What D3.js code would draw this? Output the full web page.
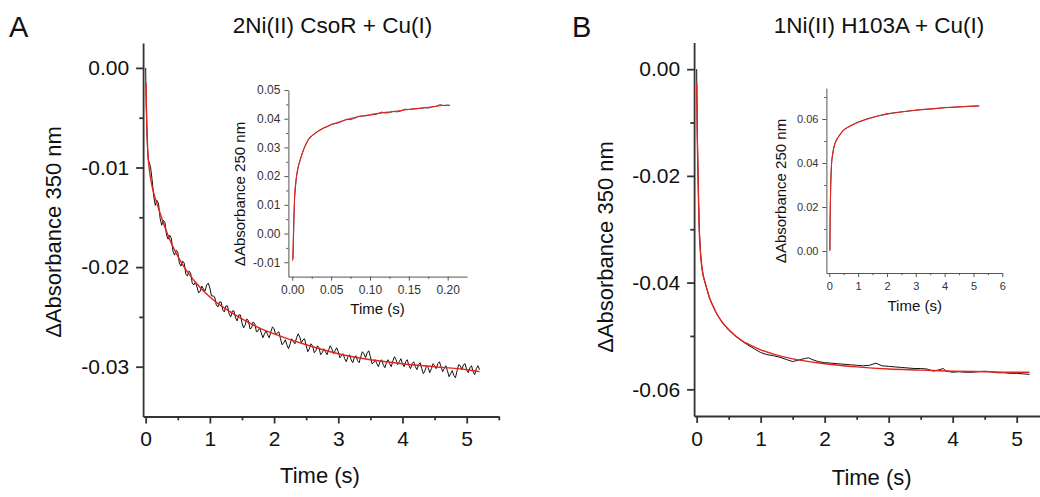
<!DOCTYPE html>
<html><head><meta charset="utf-8">
<script src="https://cdn.jsdelivr.net/npm/d3@7"></script>
<style>body{margin:0;background:#fff}svg{display:block;font-family:"Liberation Sans",Arial,sans-serif}</style>
</head><body><svg id="c" width="1040" height="497"></svg>
<script>
// ---------- Panel A main (ΔA 350 nm) ----------
const aMainTime = [0,0.005,0.01,0.02,0.03,0.04,
0.05,0.075,0.10,0.125,0.15,0.175,0.20,0.225,0.25,0.275,0.30,0.325,0.35,0.375,0.40,0.425,0.45,0.475,0.50,0.525,0.55,0.575,0.60,0.625,0.65,0.675,0.70,0.725,0.75,0.775,0.80,0.825,0.85,0.875,0.90,0.925,0.95,0.975,
1.00,1.025,1.05,1.075,1.10,1.125,1.15,1.175,1.20,1.225,1.25,1.275,1.30,1.325,1.35,1.375,1.40,1.425,1.45,1.475,1.50,1.525,1.55,1.575,1.60,1.625,1.65,1.675,1.70,1.725,1.75,1.775,1.80,1.825,1.85,1.875,1.90,1.925,1.95,1.975,
2.00,2.025,2.05,2.075,2.10,2.125,2.15,2.175,2.20,2.225,2.25,2.275,2.30,2.325,2.35,2.375,2.40,2.425,2.45,2.475,2.50,2.525,2.55,2.575,2.60,2.625,2.65,2.675,2.70,2.725,2.75,2.775,2.80,2.825,2.85,2.875,2.90,2.925,2.95,2.975,
3.00,3.025,3.05,3.075,3.10,3.125,3.15,3.175,3.20,3.225,3.25,3.275,3.30,3.325,3.35,3.375,3.40,3.425,3.45,3.475,3.50,3.525,3.55,3.575,3.60,3.625,3.65,3.675,3.70,3.725,3.75,3.775,3.80,3.825,3.85,3.875,3.90,3.925,3.95,3.975,
4.00,4.025,4.05,4.075,4.10,4.125,4.15,4.175,4.20,4.225,4.25,4.275,4.30,4.325,4.35,4.375,4.40,4.425,4.45,4.475,4.50,4.525,4.55,4.575,4.60,4.625,4.65,4.675,4.70,4.725,4.75,4.775,4.80,4.825,4.85,4.875,4.90,4.925,4.95,4.975,
5.00,5.025,5.05,5.075,5.10,5.125,5.15,5.175,5.20];
const aMainData = [0.0000,-0.0022,-0.0040,-0.0065,-0.0082,-0.0092,
-0.0094,-0.0099,-0.0112,-0.0129,-0.0138,-0.0133,-0.0136,-0.0151,-0.0158,-0.0153,-0.0155,-0.0168,-0.0172,-0.0168,-0.0171,-0.0184,-0.0188,-0.0183,-0.0185,-0.0196,-0.0199,-0.0194,-0.0196,-0.0207,-0.0209,-0.0204,-0.0206,-0.0216,-0.0218,-0.0215,-0.0220,-0.0226,-0.0224,-0.0219,-0.0222,-0.0224,-0.0218,-0.0216,
-0.0221,-0.0229,-0.0229,-0.0230,-0.0238,-0.0240,-0.0235,-0.0235,-0.0243,-0.0245,-0.0239,-0.0239,-0.0247,-0.0250,-0.0244,-0.0244,-0.0251,-0.0254,-0.0248,-0.0248,-0.0256,-0.0261,-0.0258,-0.0252,-0.0254,-0.0262,-0.0261,-0.0255,-0.0257,-0.0265,-0.0264,-0.0261,-0.0266,-0.0271,-0.0267,-0.0264,-0.0268,-0.0271,-0.0265,-0.0260,
-0.0262,-0.0268,-0.0266,-0.0265,-0.0272,-0.0278,-0.0276,-0.0273,-0.0278,-0.0282,-0.0277,-0.0272,-0.0275,-0.0277,-0.0271,-0.0267,-0.0270,-0.0276,-0.0273,-0.0272,-0.0279,-0.0285,-0.0282,-0.0277,-0.0279,-0.0286,-0.0284,-0.0279,-0.0281,-0.0288,-0.0286,-0.0282,-0.0285,-0.0288,-0.0283,-0.0279,-0.0282,-0.0287,-0.0284,-0.0281,
-0.0285,-0.0291,-0.0289,-0.0287,-0.0292,-0.0295,-0.0290,-0.0288,-0.0293,-0.0296,-0.0291,-0.0289,-0.0294,-0.0296,-0.0290,-0.0285,-0.0287,-0.0291,-0.0286,-0.0284,-0.0290,-0.0297,-0.0296,-0.0293,-0.0297,-0.0300,-0.0295,-0.0293,-0.0298,-0.0301,-0.0296,-0.0293,-0.0297,-0.0300,-0.0294,-0.0290,-0.0293,-0.0298,-0.0295,-0.0292,
-0.0297,-0.0300,-0.0295,-0.0293,-0.0299,-0.0302,-0.0297,-0.0295,-0.0300,-0.0303,-0.0298,-0.0296,-0.0302,-0.0307,-0.0304,-0.0299,-0.0301,-0.0306,-0.0302,-0.0297,-0.0299,-0.0302,-0.0297,-0.0295,-0.0300,-0.0305,-0.0302,-0.0299,-0.0304,-0.0310,-0.0307,-0.0304,-0.0309,-0.0311,-0.0304,-0.0298,-0.0299,-0.0303,-0.0298,-0.0297,
-0.0303,-0.0306,-0.0301,-0.0299,-0.0305,-0.0308,-0.0302,-0.0299,-0.0303];
const aMainFitTime = [0.005,0.01,0.02,0.03,0.05,0.075,0.1,0.15,0.2,0.3,0.4,0.5,0.6,0.7,0.8,1.0,1.2,1.5,1.8,2.0,2.5,3.0,3.5,4.0,4.5,5.0,5.2];
const aMainFit = [-0.0015,-0.0035,-0.0062,-0.0080,-0.0098,-0.0110,-0.0119,-0.0131,-0.0141,-0.0160,-0.0176,-0.0189,-0.0200,-0.0209,-0.0217,-0.0230,-0.0240,-0.0252,-0.0262,-0.0267,-0.0278,-0.0287,-0.0293,-0.0297,-0.0300,-0.0303,-0.0305];

// ---------- Panel A inset (ΔA 250 nm) ----------
const aInsetTime = [0.001,0.002,0.003,0.005,0.0075,0.01,0.015,0.02,0.025,0.03,0.035,0.04,0.045,0.05,0.055,0.06,0.065,0.07,0.075,0.08,0.085,0.09,0.095,0.1,0.105,0.11,0.115,0.12,0.125,0.13,0.135,0.14,0.145,0.15,0.155,0.16,0.165,0.17,0.175,0.18,0.185,0.19,0.195,0.2,0.203];
const aInsetData = [-0.0088,0.0040,0.0125,0.0190,0.0232,0.0256,0.0296,0.0324,0.0339,0.0351,0.0360,0.0368,0.0372,0.0380,0.0383,0.0386,0.0392,0.0398,0.0397,0.0401,0.0408,0.0409,0.0410,0.0413,0.0414,0.0417,0.0423,0.0420,0.0421,0.0425,0.0424,0.0427,0.0433,0.0432,0.0434,0.0435,0.0436,0.0438,0.0437,0.0441,0.0443,0.0449,0.0446,0.0447,0.0446];
const aInsetFitTime = [0.0005,0.001,0.002,0.003,0.005,0.01,0.015,0.02,0.03,0.04,0.05,0.065,0.08,0.1,0.12,0.15,0.175,0.2,0.203];
const aInsetFit = [-0.0095,-0.0050,0.0050,0.0130,0.0190,0.0255,0.0295,0.0325,0.0350,0.0367,0.0379,0.0393,0.0404,0.0414,0.0422,0.0432,0.0440,0.0447,0.0447];

// ---------- Panel B main (ΔA 350 nm) ----------
const bMainTime = [0,0.01,0.02,0.03,0.04,0.06,0.08,0.10,0.2,0.3,0.4,0.5,0.6,0.7,0.8,0.9,1.0,1.1,1.2,1.3,1.4,1.5,1.6,1.7,1.75,1.8,1.9,2.0,2.1,2.2,2.3,2.4,2.5,2.6,2.7,2.8,2.9,3.0,3.1,3.2,3.3,3.4,3.5,3.6,3.7,3.8,3.85,3.9,4.0,4.1,4.2,4.3,4.4,4.5,4.6,4.7,4.8,4.9,5.0,5.1,5.2];
const bMainData = [0.0000,-0.0120,-0.0185,-0.0245,-0.0298,-0.0344,-0.0369,-0.0386,-0.0429,-0.0456,-0.0475,-0.0489,-0.0500,-0.0509,-0.0517,-0.0524,-0.0531,-0.0535,-0.0537,-0.0540,-0.0544,-0.0548,-0.0545,-0.0542,-0.0541,-0.0544,-0.0548,-0.0550,-0.0551,-0.0552,-0.0553,-0.0554,-0.0555,-0.0556,-0.0555,-0.0551,-0.0556,-0.0557,-0.0558,-0.0559,-0.0560,-0.0561,-0.0561,-0.0562,-0.0566,-0.0563,-0.0561,-0.0566,-0.0568,-0.0567,-0.0568,-0.0568,-0.0567,-0.0566,-0.0567,-0.0569,-0.0569,-0.0570,-0.0570,-0.0571,-0.0572];
const bMainFitTime = [0.0,0.01,0.02,0.03,0.04,0.06,0.08,0.1,0.15,0.2,0.3,0.4,0.5,0.6,0.7,0.8,1.0,1.2,1.5,2.0,2.5,3.0,3.5,4.0,4.5,5.0,5.2];
const bMainFit = [-0.0027,-0.0131,-0.0190,-0.0250,-0.0300,-0.0345,-0.0370,-0.0385,-0.0408,-0.0428,-0.0455,-0.0474,-0.0488,-0.0499,-0.0508,-0.0515,-0.0526,-0.0534,-0.0543,-0.0552,-0.0558,-0.0562,-0.0564,-0.0566,-0.0567,-0.0568,-0.0568];

// ---------- Panel B inset (ΔA 250 nm) ----------
const bInsetTime = [0.02,0.03,0.05,0.08,0.1,0.15,0.2,0.3,0.4,0.5,0.7,1.0,1.3,1.6,2.0,2.4,2.8,3.2,3.6,4.0,4.4,4.8,5.2];
const bInsetData = [0.0005,0.0150,0.0300,0.0400,0.0425,0.0466,0.0489,0.0516,0.0535,0.0550,0.0567,0.0586,0.0600,0.0611,0.0624,0.0631,0.0637,0.0643,0.0646,0.0652,0.0654,0.0658,0.0660];
const bInsetFitTime = [0.02,0.03,0.05,0.08,0.1,0.15,0.2,0.3,0.4,0.5,0.7,1.0,1.5,2.0,2.5,3.0,3.5,4.0,4.5,5.0,5.2];
const bInsetFit = [0.0000,0.0150,0.0300,0.0400,0.0425,0.0465,0.0490,0.0515,0.0535,0.0550,0.0566,0.0585,0.0607,0.0622,0.0632,0.0640,0.0646,0.0651,0.0655,0.0658,0.0659];

// ---------- labels / ticks ----------
const titles = ["2Ni(II) CsoR + Cu(I)", "1Ni(II) H103A + Cu(I)"];
const panelLetters = ["A", "B"];
const mainYLabel = "ΔAbsorbance 350 nm";
const insetYLabel = "ΔAbsorbance 250 nm";
const xLabel = "Time (s)";
const aMainYTicks = [0, -0.01, -0.02, -0.03];
const aMainYMinor = [-0.005, -0.015, -0.025];
const bMainYTicks = [0, -0.02, -0.04, -0.06];
const bMainYMinor = [-0.01, -0.03, -0.05];
const mainXTicks = [0, 1, 2, 3, 4, 5];
const mainXMinor = [0.5, 1.5, 2.5, 3.5, 4.5, 5.5];
const aInsetYTicks = [-0.01, 0, 0.01, 0.02, 0.03, 0.04, 0.05];
const aInsetYMinor = [-0.005, 0.005, 0.015, 0.025, 0.035, 0.045];
const aInsetXTicks = [0, 0.05, 0.10, 0.15, 0.20];
const aInsetXMinor = [0.025, 0.075, 0.125, 0.175];
const bInsetYTicks = [0, 0.02, 0.04, 0.06];
const bInsetYMinor = [0.01, 0.03, 0.05, 0.07];
const bInsetXTicks = [0, 1, 2, 3, 4, 5, 6];
const bInsetXMinor = [0.5, 1.5, 2.5, 3.5, 4.5, 5.5];

const svg = d3.select("#c");
svg.append("rect").attr("width",1040).attr("height",497).attr("fill","#fff");
const RED = "#e3231e";
const f2 = d => (Math.abs(d) < 1e-9 ? 0 : d).toFixed(2);
const fx = d => String(d);

function panel(o){
  const x = d3.scaleLinear().domain(o.xd).range(o.xr);
  const y = d3.scaleLinear().domain(o.yd).range(o.yr);
  const g = svg.append("g");
  const axCol = o.inset ? "#555" : "#333";
  const sw = o.inset ? 1 : 1.8;
  g.append("g").attr("transform",`translate(${o.xr[0]},0)`)
    .call(d3.axisLeft(y).tickValues(o.yt).tickSize(o.tl).tickSizeOuter(0).tickPadding(o.tp).tickFormat(f2));
  const ym = g.append("g").attr("transform",`translate(${o.xr[0]},0)`)
    .call(d3.axisLeft(y).tickValues(o.ym).tickSize(o.tl*0.55).tickSizeOuter(0).tickFormat(""));
  ym.select(".domain").remove();
  g.append("g").attr("transform",`translate(0,${o.yr[0]})`)
    .call(d3.axisBottom(x).tickValues(o.xt).tickSize(o.tl).tickSizeOuter(0).tickPadding(o.tpx).tickFormat(o.xf));
  const xm = g.append("g").attr("transform",`translate(0,${o.yr[0]})`)
    .call(d3.axisBottom(x).tickValues(o.xm).tickSize(o.tl*0.55).tickSizeOuter(0).tickFormat(""));
  xm.select(".domain").remove();
  g.selectAll(".domain, .tick line").attr("stroke",axCol).attr("stroke-width",sw);
  g.selectAll(".tick text").attr("fill", o.inset ? "#333" : "#111")
    .attr("font-size", o.fs).attr("font-family",'"Liberation Sans",Arial,sans-serif');
  const line = d3.line().x(d=>x(d[0])).y(d=>y(d[1]));
  const sm = d3.line().x(d=>x(d[0])).y(d=>y(d[1])).curve(d3.curveMonotoneX);
  g.append("path").datum(d3.zip(o.t, o.v)).attr("d", line)
    .attr("fill","none").attr("stroke", o.inset ? "#444" : "#111").attr("stroke-width", o.inset?1:1);
  g.append("path").datum(d3.zip(o.ft, o.fv)).attr("d", sm)
    .attr("fill","none").attr("stroke", RED).attr("stroke-width", o.inset?1.1:1.4);
  g.append("text").attr("x", o.xlx).attr("y", o.xly).attr("text-anchor","middle")
    .attr("font-size", o.lfs).attr("fill","#111").text(xLabel);
  g.append("text").attr("transform",`translate(${o.ylx},${o.yly}) rotate(-90)`).attr("text-anchor","middle")
    .attr("font-size", o.lfs).attr("fill","#111").text(o.yl);
}

panel({xd:[-0.04,5.5], xr:[143.1,498.8], yd:[-0.035,0.0025], yr:[416.5,43],
  yt:aMainYTicks, ym:aMainYMinor, xt:mainXTicks, xm:mainXMinor, xf:fx,
  tl:7, tp:7, tpx:8, fs:21, lfs:22, t:aMainTime, v:aMainData, ft:aMainFitTime, fv:aMainFit,
  xlx:320, xly:483, ylx:61, yly:232, yl:mainYLabel});
panel({xd:[-0.005,0.225], xr:[288.4,467.1], yd:[-0.015,0.05], yr:[276.6,90], inset:true,
  yt:aInsetYTicks, ym:aInsetYMinor, xt:aInsetXTicks, xm:aInsetXMinor, xf:f2,
  tl:4, tp:4, tpx:5, fs:12, lfs:15, t:aInsetTime, v:aInsetData, ft:aInsetFitTime, fv:aInsetFit,
  xlx:377.5, xly:314, ylx:245, yly:194, yl:insetYLabel});
panel({xd:[-0.04,5.5], xr:[694.1,1048.7], yd:[-0.065,0.005], yr:[416,42.5],
  yt:bMainYTicks, ym:bMainYMinor, xt:mainXTicks, xm:mainXMinor, xf:fx,
  tl:7, tp:7, tpx:8, fs:21, lfs:22, t:bMainTime, v:bMainData, ft:bMainFitTime, fv:bMainFit,
  xlx:871.7, xly:485, ylx:613, yly:247, yl:mainYLabel});
panel({xd:[-0.1,6], xr:[826.4,1002.3], yd:[-0.01,0.074], yr:[273,88.2], inset:true,
  yt:bInsetYTicks, ym:bInsetYMinor, xt:bInsetXTicks, xm:bInsetXMinor, xf:fx,
  tl:4, tp:4, tpx:5, fs:11, lfs:15, t:bInsetTime, v:bInsetData, ft:bInsetFitTime, fv:bInsetFit,
  xlx:914.7, xly:311, ylx:786, yly:191, yl:insetYLabel});

svg.append("text").attr("x",332.5).attr("y",33).attr("text-anchor","middle").attr("font-size",22.5).attr("fill","#111").text(titles[0]);
svg.append("text").attr("x",879).attr("y",33).attr("text-anchor","middle").attr("font-size",22.5).attr("fill","#111").text(titles[1]);
svg.append("text").attr("x",9).attr("y",37).attr("font-size",29).attr("fill","#111").text(panelLetters[0]);
svg.append("text").attr("x",572).attr("y",37).attr("font-size",29).attr("fill","#111").text(panelLetters[1]);
</script></body></html>
